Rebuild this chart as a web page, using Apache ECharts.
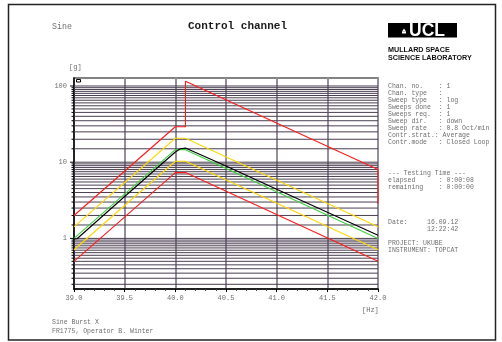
<!DOCTYPE html>
<html>
<head>
<meta charset="utf-8">
<script src="https://cdn.jsdelivr.net/npm/echarts@6/dist/echarts.min.js"></script>
<style>
  html, body { margin: 0; padding: 0; background: #fff; }
  #chart { width: 502px; height: 342px; }
</style>
</head>
<body>
<div id="chart"></div>
<script>
// Frequency range of the sweep [Hz]
const xMin = 39.0;
const xMax = 42.0;
const xTicks = [39.0, 39.5, 40.0, 40.5, 41.0, 41.5, 42.0];

// Acceleration range [g] (log scale)
const yMin = 0.2168;
const yMax = 127.3;
const yLabels = [1, 10, 100];

// Horizontal grid values: steps of 0.5 inside each decade
const gridVals = [
  0.25, 0.3, 0.35, 0.4, 0.45, 0.5, 0.55, 0.6, 0.65, 0.7, 0.75, 0.8, 0.85, 0.9, 0.95, 1,
  1.5, 2, 2.5, 3, 3.5, 4, 4.5, 5, 5.5, 6, 6.5, 7, 7.5, 8, 8.5, 9, 9.5, 10,
  15, 20, 25, 30, 35, 40, 45, 50, 55, 60, 65, 70, 75, 80, 85, 90, 95, 100
];

// Reference profile and tolerance bands
const refFreq     = [39.0, 40.0, 40.1, 42.0];
const reference   = [1.0, 14.6, 14.6, 1.0];
const alarmHigh   = [1.42, 20.6, 20.6, 1.42];
const alarmLow    = [0.71, 10.3, 10.3, 0.71];
const abortLow    = [0.5, 7.3, 7.3, 0.5];

// Upper abort limit (opens up above 40.1 Hz)
const abortHighFreq = [39.0, 40.0, 40.1, 40.1, 42.0, 42.0];
const abortHigh     = [2.0, 29.2, 29.2, 115, 8.0, 2.85];

// Measured control signal
const ctrlFreq = [39.0, 39.03, 39.5, 40.0, 40.05, 40.1, 40.5, 41.0, 41.5, 42.0];
const control  = [0.98, 0.99, 3.55, 13.6, 15.0, 15.3, 8.9, 4.4, 2.2, 1.1];

// Status panel text
const infoLines = [
  'Chan. no.    : 1',
  'Chan. type   :',
  'Sweep type   : log',
  'Sweeps done  : 1',
  'Sweeps req.  : 1',
  'Sweep dir.   : down',
  'Sweep rate   : 0.8 Oct/min',
  'Contr.strat.: Average',
  'Contr.mode   : Closed Loop'
];
const timeLines = ['--- Testing Time ---', 'elapsed      : 0:00:08', 'remaining    : 0:00:00'];
const dateLines = ['Date:     16.09.12', '          12:22:42'];
const projLines = ['PROJECT: UKUBE', 'INSTRUMENT: TOPCAT'];
const footLines = ['Sine Burst X', 'FR1775, Operator B. Winter'];

const mono = '"Liberation Mono", "DejaVu Sans Mono", monospace';
const sans = '"Liberation Sans", Arial, sans-serif';
const textGray = '#6f6f6f';

function zip(xs, ys) { return xs.map((x, i) => [x, ys[i]]); }

function textBlock(lines, left, top, step) {
  return lines.map((t, i) => ({
    type: 'text', left: left, top: top + i * step,
    style: { text: t, font: '6.5px ' + mono, fill: textGray }
  }));
}

const chart = echarts.init(document.getElementById('chart'), null, { renderer: 'canvas' });

function lineSeries(name, xs, ys, color, z) {
  return {
    name: name, type: 'line', data: zip(xs, ys), showSymbol: false, symbol: 'none',
    lineStyle: { color: color, width: 1.1 }, z: z, animation: false, silent: true
  };
}

const option = {
  backgroundColor: '#fff',
  animation: false,
  grid: {
    left: 74, right: 124, top: 78, bottom: 53,
    show: true, borderColor: '#5a5a5a', borderWidth: 1.5, backgroundColor: '#fff'
  },
  xAxis: {
    type: 'value', min: xMin, max: xMax, interval: 0.5,
    axisLine: { lineStyle: { color: '#000', width: 1.5 } },
    axisTick: { show: true, length: 3, lineStyle: { color: '#000' } },
    minorTick: { show: true, splitNumber: 5, length: 2, lineStyle: { color: '#444' } },
    splitLine: { show: true, lineStyle: { color: '#958d9b', width: 2 } },
    axisLabel: {
      margin: 6, color: textGray, fontFamily: mono, fontSize: 7,
      formatter: v => xTicks.some(t => Math.abs(t - v) < 1e-6) ? v.toFixed(1) : ''
    }
  },
  yAxis: {
    type: 'log', logBase: 10, min: yMin, max: yMax,
    axisLine: { show: true, lineStyle: { color: '#000', width: 1.5 } },
    axisTick: { show: false },
    splitLine: { show: false },
    axisLabel: {
      margin: 7, color: textGray, fontFamily: mono, fontSize: 7,
      formatter: v => yLabels.some(t => Math.abs(Math.log10(v) - Math.log10(t)) < 1e-6) ? String(v) : ''
    }
  },
  series: [
    {
      // horizontal grid lines and left-hand ticks
      type: 'custom', z: 1, silent: true, clip: false,
      data: gridVals.map(v => [xMin, v]),
      renderItem: function (params, api) {
        const v = api.value(1);
        const p0 = api.coord([xMin, v]);
        const p1 = api.coord([xMax, v]);
        const m = v / Math.pow(10, Math.floor(Math.log10(v) + 1e-9));
        const isDecade = Math.abs(m - 1) < 1e-6;
        const y = p0[1];
        return {
          type: 'group',
          children: [
            { type: 'line', shape: { x1: p0[0], y1: y, x2: p1[0], y2: y },
              style: { stroke: '#4a3f52', lineWidth: 1 } },
            { type: 'line', shape: { x1: p0[0] - (isDecade ? 4 : 2.5), y1: y, x2: p0[0], y2: y },
              style: { stroke: '#000', lineWidth: 1 } }
          ]
        };
      }
    },
    lineSeries('abortHigh', abortHighFreq, abortHigh, '#ff1a1a', 3),
    lineSeries('abortLow', refFreq, abortLow, '#ff1a1a', 3),
    lineSeries('alarmHigh', refFreq, alarmHigh, '#ffd800', 4),
    lineSeries('alarmLow', refFreq, alarmLow, '#ffd800', 4),
    lineSeries('reference', refFreq, reference, '#3fcf3f', 5),
    lineSeries('control', ctrlFreq, control, '#000000', 6)
  ],
  graphic: [
    // outer frame
    { type: 'rect', shape: { x: 8.5, y: 4.5, width: 487, height: 335.5 },
      style: { fill: 'none', stroke: '#222', lineWidth: 1.5 }, z: 0 },
    { type: 'text', left: 52, top: 23, style: { text: 'Sine', font: '8.3px ' + mono, fill: textGray } },
    { type: 'text', left: 188, top: 21, style: { text: 'Control channel', font: 'bold 11px ' + mono, fill: '#1a1a1a' } },
    { type: 'text', left: 69, top: 64, style: { text: '[g]', font: '7px ' + mono, fill: textGray } },
    { type: 'text', left: 362, top: 307, style: { text: '[Hz]', font: '7px ' + mono, fill: textGray } },
    // marker box in the plot corner
    { type: 'rect', shape: { x: 76.5, y: 79.5, width: 4, height: 2.5 },
      style: { fill: '#fff', stroke: '#000', lineWidth: 1 }, z: 10 },
    // logo
    { type: 'rect', shape: { x: 388, y: 23, width: 69, height: 14.5 }, style: { fill: '#000' } },
    { type: 'polygon', shape: { points: [[402, 31.5], [404, 28.5], [406, 31.5]] }, style: { fill: '#fff' } },
    { type: 'rect', shape: { x: 402, y: 31.5, width: 4, height: 2 }, style: { fill: '#fff' } },
    { type: 'text', left: 409, top: 22, style: { text: 'UCL', font: 'bold 17.5px ' + sans, fill: '#fff' } },
    { type: 'text', left: 388, top: 47, style: { text: 'MULLARD SPACE', font: 'bold 7.2px ' + sans, fill: '#111' } },
    { type: 'text', left: 388, top: 55, style: { text: 'SCIENCE LABORATORY', font: 'bold 7.2px ' + sans, fill: '#111' } }
  ]
    .concat(textBlock(infoLines, 388, 83, 7))
    .concat(textBlock(timeLines, 388, 170, 7))
    .concat(textBlock(dateLines, 388, 219, 7))
    .concat(textBlock(projLines, 388, 240, 7))
    .concat(textBlock(footLines.slice(0, 1), 52, 319, 0))
    .concat(textBlock(footLines.slice(1), 52, 328, 0))
};

chart.setOption(option);
</script>
</body>
</html>
